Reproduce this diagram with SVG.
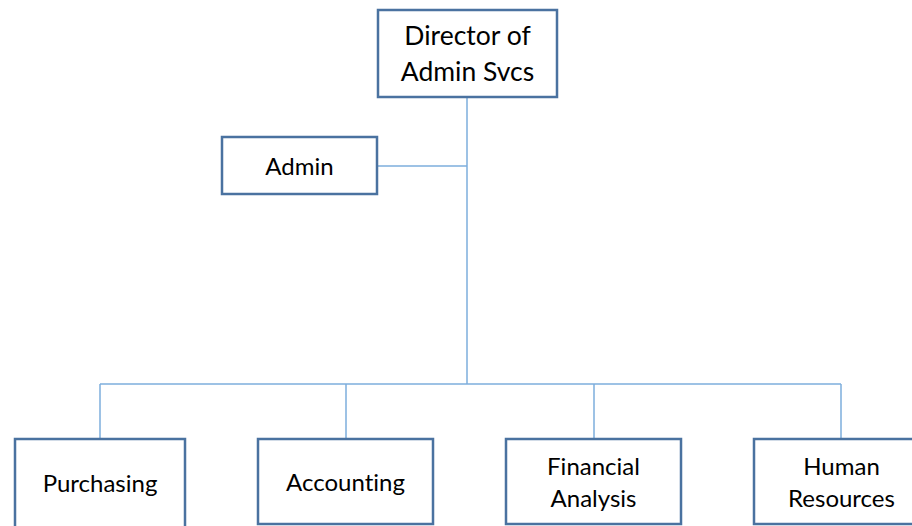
<svg xmlns="http://www.w3.org/2000/svg" width="912" height="526" viewBox="0 0 912 526">
<style>
.box{fill:#fff;stroke:#4a72a0;stroke-width:2.5}
.ln{fill:none;stroke:#7eaedd;stroke-width:1.5}
text{font-family:Lato,"Open Sans","Liberation Sans",sans-serif;fill:#000;text-anchor:middle;font-variant-ligatures:none}
.t1{font-size:26.5px}
.t2{font-size:24px}
</style>
<rect width="912" height="526" fill="#fff"/>
<g id="connectors">
<path class="ln" d="M467 97V384M378 166H467M100 384H841M100 384V439M346 384V439M594 384V439M841 384V439"/>
</g>
<g id="director"><rect class="box" x="378" y="10" width="179" height="87"/><text class="t1" x="467.5" y="45">Director of</text><text class="t1" x="467.5" y="81">Admin Svcs</text></g>
<g id="admin"><rect class="box" x="222" y="137" width="155" height="57"/><text class="t2" x="299.5" y="175">Admin</text></g>
<g id="purchasing"><rect class="box" x="15" y="439" width="170" height="100"/><text class="t2" x="100" y="492">Purchasing</text></g>
<g id="accounting"><rect class="box" x="258" y="439" width="175" height="85"/><text class="t2" x="345.5" y="491">Accounting</text></g>
<g id="financial"><rect class="box" x="506" y="439" width="175" height="85"/><text class="t2" x="593.5" y="475">Financial</text><text class="t2" x="593.5" y="507">Analysis</text></g>
<g id="hr"><rect class="box" x="754" y="439" width="175" height="85"/><text class="t2" x="841.5" y="475">Human</text><text class="t2" x="841.5" y="507">Resources</text></g>
</svg>
